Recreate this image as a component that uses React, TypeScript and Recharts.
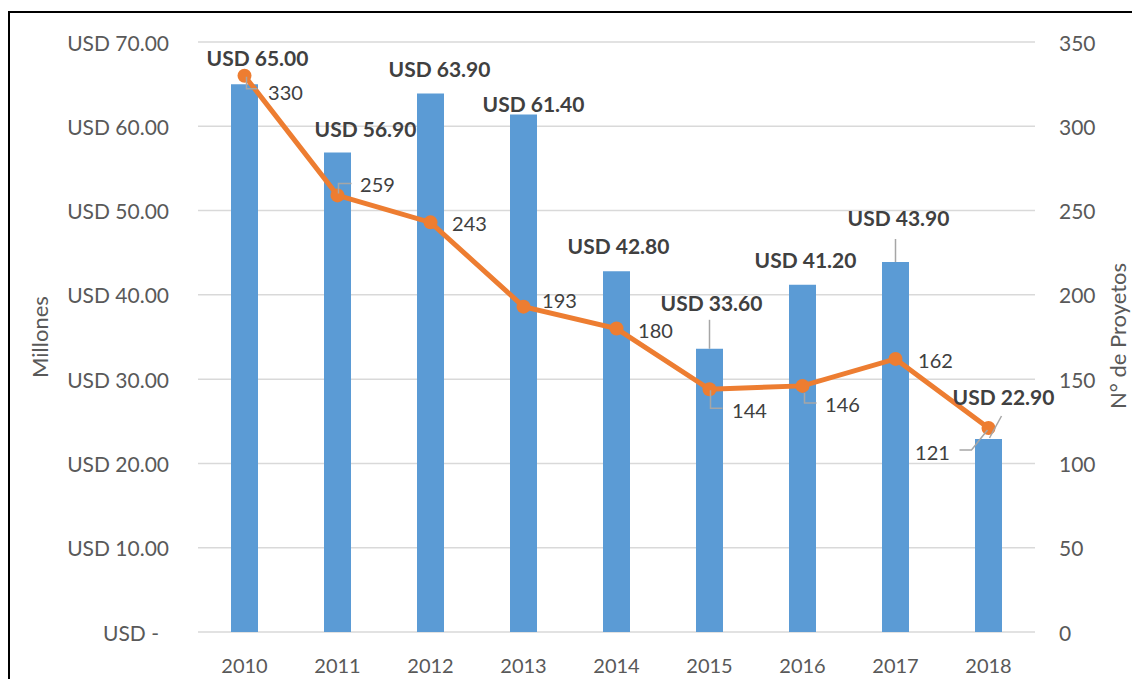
import React from 'react';
import { ComposedChart, Bar, Line, XAxis, YAxis, CartesianGrid, LabelList } from 'recharts';

const years = ['2010', '2011', '2012', '2013', '2014', '2015', '2016', '2017', '2018'];
const montos = [65.0, 56.9, 63.9, 61.4, 42.8, 33.6, 41.2, 43.9, 22.9];
const proyectos = [330, 259, 243, 193, 180, 144, 146, 162, 121];
const leftTicks = [0, 10, 20, 30, 40, 50, 60, 70];
const rightTicks = [0, 50, 100, 150, 200, 250, 300, 350];

const data = years.map((y, i) => ({ year: y, monto: montos[i], proyectos: proyectos[i] }));

// label layout (offsets relative to computed mark positions)
const barLabelOffsets: [number, number][] = [
  [13, -27], [28, -24], [9, -25], [10, -11], [2, -26], [2, -46], [3, -25], [3, -44], [15, -42],
];
const lineLabelOffsets: [number, number][] = [
  [41, 16], [40, -11], [39, 1], [36, -7], [39, 1], [40, 21], [40, 18], [40, 1], [-56, 24],
];

const FONT = 'Lato, "Open Sans", sans-serif';
const TXT = '#595959';
const LBL = '#404040';
const LEAD = '#A6A6A6';
const FS = 20;

const fmtUSD = (v: number) => (v === 0 ? 'USD -' : `USD ${v.toFixed(2)}`);

const LeftTick = (p: any) => {
  const v = p.payload.value;
  return (
    <text x={p.x - 27 - (v === 0 ? 10 : 0)} y={p.y} textAnchor="end" dominantBaseline="central"
      fill={TXT} fontSize={21} fontFamily={FONT}>{fmtUSD(v)}</text>
  );
};
const RightTick = (p: any) => (
  <text x={p.x + 22} y={p.y} textAnchor="start" dominantBaseline="central"
    fill={TXT} fontSize={21} fontFamily={FONT}>{p.payload.value}</text>
);
const BottomTick = (p: any) => (
  <text x={p.x} y={p.y + 31} textAnchor="middle" dominantBaseline="central"
    fill={TXT} fontSize={FS} fontFamily={FONT}>{p.payload.value}</text>
);

const BarLabel = (p: any) => {
  const i = p.index;
  const cx = p.x + p.width / 2;
  const top = p.y;
  const [dx, dy] = barLabelOffsets[i];
  let leader: React.ReactNode = null;
  if (i === 5) leader = <line x1={cx} y1={top - 29} x2={cx} y2={top} stroke={LEAD} strokeWidth={1.5} />;
  if (i === 7) leader = <line x1={cx} y1={top - 23} x2={cx} y2={top} stroke={LEAD} strokeWidth={1.5} />;
  if (i === 8) leader = <line x1={cx + 13} y1={top - 23} x2={cx + 1} y2={top - 1} stroke={LEAD} strokeWidth={1.5} />;
  return (
    <g>
      {leader}
      <text x={cx + dx} y={top + dy} textAnchor="middle" dominantBaseline="central"
        fill={LBL} fontSize={21} fontWeight="bold" fontFamily={FONT}>{fmtUSD(p.value)}</text>
    </g>
  );
};

const LineLabel = (p: any) => {
  const i = p.index;
  const x = p.x;
  const y = p.y;
  const [dx, dy] = lineLabelOffsets[i];
  let leader: React.ReactNode = null;
  if (i === 0) leader = <polyline points={`${x + 2},${y + 1} ${x + 2},${y + 13} ${x + 13},${y + 13}`} fill="none" stroke={LEAD} strokeWidth={1.5} />;
  if (i === 1) leader = <polyline points={`${x + 1},${y - 2} ${x + 1},${y - 12} ${x + 14},${y - 12}`} fill="none" stroke={LEAD} strokeWidth={1.5} />;
  if (i === 5) leader = <polyline points={`${x + 1},${y + 1} ${x + 1},${y + 19} ${x + 13},${y + 19}`} fill="none" stroke={LEAD} strokeWidth={1.5} />;
  if (i === 6) leader = <polyline points={`${x + 2},${y + 7} ${x + 2},${y + 17} ${x + 14},${y + 17}`} fill="none" stroke={LEAD} strokeWidth={1.5} />;
  if (i === 8) leader = <polyline points={`${x - 29},${y + 22} ${x - 17},${y + 22} ${x - 1},${y + 2}`} fill="none" stroke={LEAD} strokeWidth={1.5} />;
  return (
    <g>
      {leader}
      <text x={x + dx} y={y + dy} textAnchor="middle" dominantBaseline="central"
        fill={LBL} fontSize={FS} fontFamily={FONT}>{p.value}</text>
    </g>
  );
};

const titleStyle = (cx: number, cy: number): React.CSSProperties => ({
  position: 'absolute',
  left: cx - 150,
  top: cy - 12,
  width: 300,
  height: 24,
  textAlign: 'center',
  transform: 'rotate(-90deg)',
  transformOrigin: '50% 50%',
  whiteSpace: 'nowrap',
  fontFamily: FONT,
  fontSize: 22,
  color: TXT,
  lineHeight: '24px',
});

export default function App() {
  return (
    <div style={{ position: 'fixed', left: 0, top: 0, width: 1132, height: 679, overflow: 'hidden', background: '#fff' }}>
      <div style={{ position: 'absolute', left: 8, top: 11, width: 1300, height: 900, borderLeft: '2px solid #000', borderTop: '2px solid #000', boxSizing: 'border-box' }} />
      <div style={{ position: 'absolute', left: 8, top: 8 }}>
        <ComposedChart width={1124} height={671} data={data} margin={{ top: 34, right: 0, bottom: 0, left: 0 }} barCategoryGap="0%">
          <CartesianGrid yAxisId="left" vertical={false} stroke="#D9D9D9" strokeWidth={1.5} />
          <XAxis dataKey="year" axisLine={false} tickLine={false} tickSize={0} height={47} tick={BottomTick} interval={0} />
          <YAxis yAxisId="left" orientation="left" domain={[0, 70]} ticks={leftTicks} width={190}
            axisLine={false} tickLine={false} tickSize={0} tick={LeftTick} interval={0} />
          <YAxis yAxisId="right" orientation="right" domain={[0, 350]} ticks={rightTicks} width={97}
            axisLine={false} tickLine={false} tickSize={0} tick={RightTick} interval={0} />
          <Bar yAxisId="left" dataKey="monto" fill="#5B9BD5" barSize={27} isAnimationActive={false}>
            <LabelList dataKey="monto" content={BarLabel} />
          </Bar>
          <Line yAxisId="right" dataKey="proyectos" stroke="#ED7D31" strokeWidth={5}
            dot={{ r: 7, fill: '#ED7D31', stroke: '#ED7D31', strokeWidth: 0 }} isAnimationActive={false}>
            <LabelList dataKey="proyectos" content={LineLabel} />
          </Line>
        </ComposedChart>
      </div>
      <div style={titleStyle(40, 337)}>Millones</div>
      <div style={titleStyle(1118, 336)}>N° de Proyetos</div>
    </div>
  );
}
